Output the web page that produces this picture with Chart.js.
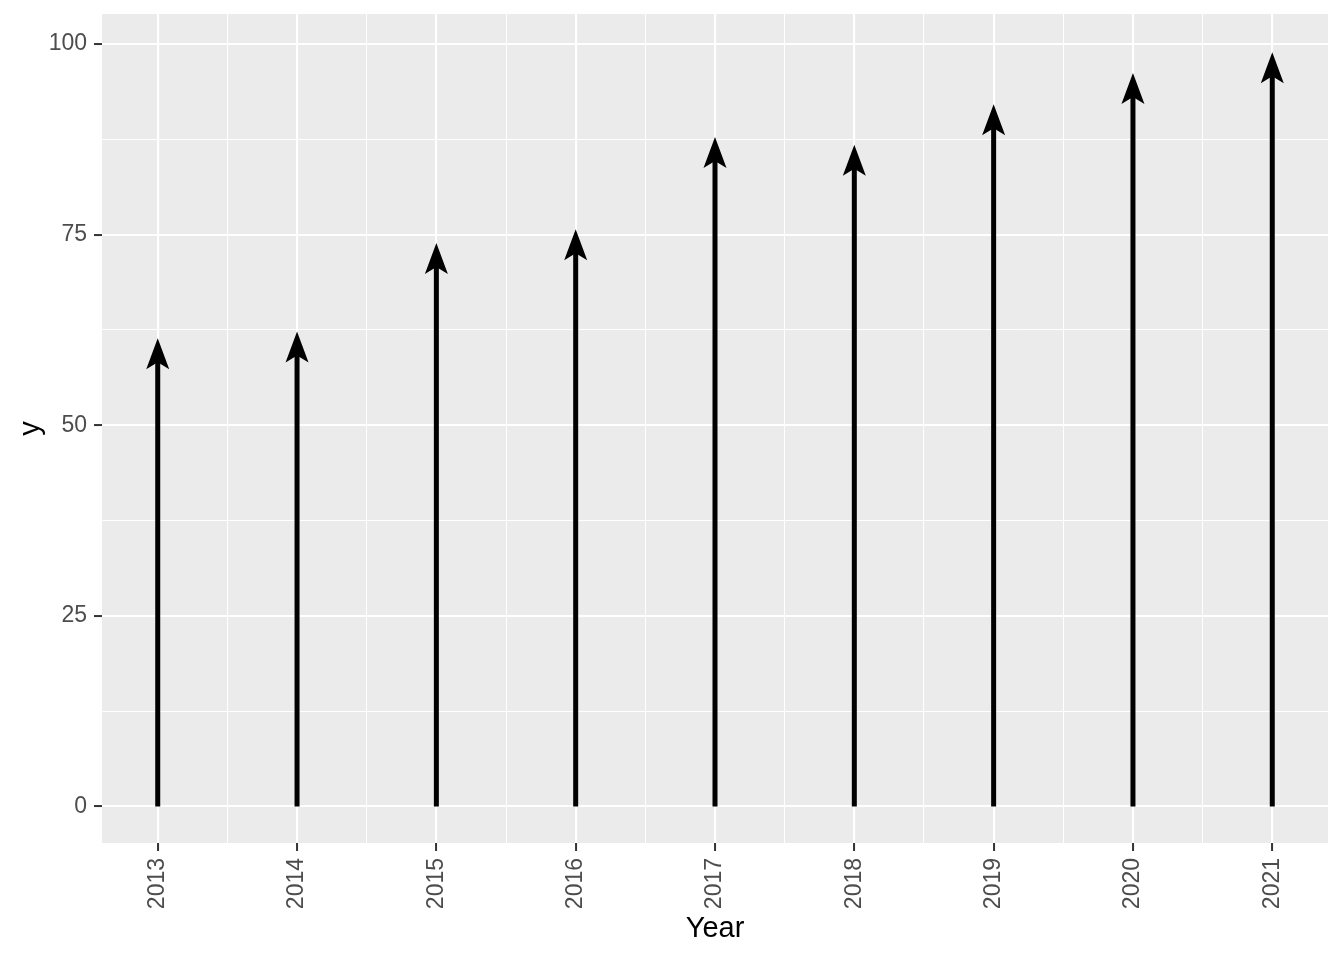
<!DOCTYPE html>
<html lang="en">
<head>
    <meta charset="UTF-8">
    <title>Arrows by year</title>
    <script src="https://cdn.jsdelivr.net/npm/chart.js"></script>
    <style>
        html, body {
            margin: 0;
            padding: 0;
            background: #ffffff;
        }
        #wrap {
            width: 1344px;
            height: 960px;
        }
    </style>
</head>
<body>
    <div id="wrap"><canvas id="chart"></canvas></div>

    <script>
        // data
        const years = [2013, 2014, 2015, 2016, 2017, 2018, 2019, 2020, 2021];
        const values = [61.4, 62.3, 73.9, 75.7, 87.8, 86.8, 92.1, 96.2, 98.9];

        // axis breaks
        const xMinor = [2013.5, 2014.5, 2015.5, 2016.5, 2017.5, 2018.5, 2019.5, 2020.5];
        const yTicks = [0, 25, 50, 75, 100];
        const yMinor = [12.5, 37.5, 62.5, 87.5];

        const xMin = 2012.6, xMax = 2021.4;
        const yMin = -4.78, yMax = 103.93;

        const FONT = "'Liberation Sans', Arial, sans-serif";

        function isMajor(list, v) {
            return list.some(t => Math.abs(t - v) < 1e-6);
        }

        // grey panel behind the grid
        const panelBg = {
            id: 'panelBg',
            beforeDraw(chart) {
                const a = chart.chartArea;
                const ctx = chart.ctx;
                ctx.save();
                ctx.fillStyle = '#EBEBEB';
                ctx.fillRect(a.left, a.top, a.right - a.left, a.bottom - a.top);
                ctx.restore();
            }
        };

        // arrows from 0 up to each value
        const arrows = {
            id: 'arrows',
            afterDatasetsDraw(chart) {
                const ctx = chart.ctx;
                const meta = chart.getDatasetMeta(0);
                const y0 = chart.scales.y.getPixelForValue(0);
                ctx.save();
                ctx.fillStyle = '#000000';
                ctx.strokeStyle = '#000000';
                meta.data.forEach(pt => {
                    const x = pt.x, y = pt.y;
                    ctx.lineWidth = 5;
                    ctx.beginPath();
                    ctx.moveTo(x, y0);
                    ctx.lineTo(x, y + 22);
                    ctx.stroke();

                    ctx.beginPath();
                    ctx.moveTo(x, y);
                    ctx.lineTo(x + 11.5, y + 31);
                    ctx.lineTo(x, y + 24);
                    ctx.lineTo(x - 11.5, y + 31);
                    ctx.closePath();
                    ctx.fill();
                });
                ctx.restore();
            }
        };

        new Chart(document.getElementById('chart'), {
            type: 'scatter',
            data: {
                datasets: [{
                    label: 'y',
                    data: years.map((yr, i) => ({ x: yr, y: values[i] })),
                    pointRadius: 0,
                    pointHoverRadius: 0,
                    showLine: false
                }]
            },
            options: {
                responsive: true,
                maintainAspectRatio: false,
                animation: false,
                layout: {
                    padding: { top: 14, right: 16, left: 0, bottom: 0 }
                },
                plugins: {
                    legend: { display: false },
                    tooltip: { enabled: false }
                },
                scales: {
                    x: {
                        type: 'linear',
                        min: xMin,
                        max: xMax,
                        afterBuildTicks(scale) {
                            scale.ticks = years.concat(xMinor).sort((a, b) => a - b).map(v => ({ value: v }));
                        },
                        afterFit(scale) {
                            scale.height = 117;
                            scale.paddingLeft = 0;
                            scale.paddingRight = 0;
                        },
                        border: { display: false },
                        grid: {
                            color: '#FFFFFF',
                            lineWidth: c => isMajor(years, c.tick.value) ? 2.1 : 1,
                            drawTicks: true,
                            tickLength: 8,
                            tickWidth: 2,
                            tickColor: c => isMajor(years, c.tick.value) ? '#333333' : 'rgba(0,0,0,0)'
                        },
                        ticks: {
                            autoSkip: false,
                            minRotation: 90,
                            maxRotation: 90,
                            padding: 7,
                            color: '#4D4D4D',
                            font: { family: FONT, size: 23 },
                            callback: v => isMajor(years, v) ? String(v) : ''
                        },
                        title: {
                            display: true,
                            text: 'Year',
                            color: '#000000',
                            font: { family: FONT, size: 29 },
                            padding: { top: 0, bottom: 13.6 }
                        }
                    },
                    y: {
                        type: 'linear',
                        min: yMin,
                        max: yMax,
                        afterBuildTicks(scale) {
                            scale.ticks = yTicks.concat(yMinor).sort((a, b) => a - b).map(v => ({ value: v }));
                        },
                        afterFit(scale) {
                            scale.width = 102;
                            scale.paddingTop = 0;
                            scale.paddingBottom = 0;
                        },
                        border: { display: false },
                        grid: {
                            color: '#FFFFFF',
                            lineWidth: c => isMajor(yTicks, c.tick.value) ? 2.1 : 1,
                            drawTicks: true,
                            tickLength: 8,
                            tickWidth: 2,
                            tickColor: c => isMajor(yTicks, c.tick.value) ? '#333333' : 'rgba(0,0,0,0)'
                        },
                        ticks: {
                            autoSkip: false,
                            padding: 7,
                            color: '#4D4D4D',
                            font: { family: FONT, size: 23 },
                            callback: v => isMajor(yTicks, v) ? String(v) : ''
                        },
                        title: {
                            display: true,
                            text: 'y',
                            color: '#000000',
                            font: { family: FONT, size: 29 },
                            padding: { top: 13.6, bottom: 0 }
                        }
                    }
                }
            },
            plugins: [panelBg, arrows]
        });
    </script>
</body>
</html>
